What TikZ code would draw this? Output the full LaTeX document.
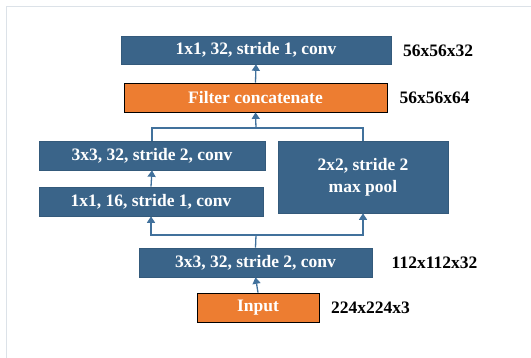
\documentclass[tikz,border=0pt]{standalone}
\usepackage{fontspec}
\setmainfont{Liberation Serif}
\usepackage{xcolor}
\usetikzlibrary{arrows.meta}
\usetikzlibrary{shadows}

\definecolor{layerblue}{HTML}{3A6489}
\definecolor{linkblue}{HTML}{41719C}
\definecolor{concatorange}{HTML}{ED7D31}
\definecolor{framegray}{HTML}{DCE2E8}

\tikzset{
    layer/.style={rectangle, fill=layerblue, draw=layerblue!90!black, line width=0.6pt,
        text=white, font={\fontsize{17.5}{22}\selectfont\bfseries}, align=center,
        inner sep=0pt, drop shadow={opacity=0.22, shadow xshift=1pt, shadow yshift=-1.5pt}},
    merge/.style={rectangle, fill=concatorange, draw=black, line width=0.8pt,
        text=white, font={\fontsize{17.5}{20}\selectfont\bfseries}, inner sep=0pt},
    shape label/.style={font={\fontsize{17.5}{20}\selectfont\bfseries}, text=black},
    link/.style={draw=linkblue, line width=1.3pt},
    linkarrow/.style={link, -{Triangle[width=8pt,length=6.5pt]}}
}

\begin{document}
\begin{tikzpicture}[x=1pt, y=-1pt]
        \useasboundingbox (0,0) rectangle (531,358);
        % Rahmen
        \draw[framegray, line width=1pt] (6.5,358) -- (6.5,7) -- (531,7);
        % Schichten
        \node[layer, minimum width=270pt, minimum height=28pt] (conv4) at (256,50) {1x1, 32, stride 1, conv};
        \node[merge, minimum width=263pt, minimum height=29pt] (concat) at (255.5,97.5) {Filter concatenate};
        \node[layer, minimum width=226pt, minimum height=29pt] (conv3) at (152,155.5) {3x3, 32, stride 2, conv};
        \node[layer, minimum width=170pt, minimum height=72pt] (pool) at (363,177) {2x2, stride 2\\max pool};
        \node[layer, minimum width=224pt, minimum height=29pt] (conv2) at (151,201.5) {1x1, 16, stride 1, conv};
        \node[layer, minimum width=233pt, minimum height=29pt] (conv1) at (255.5,262.5) {3x3, 32, stride 2, conv};
        \node[merge, minimum width=122pt, minimum height=29pt] (input) at (258,307.5) {Input};
        % Groessen
        \node[shape label] (size4) at (438,51) {56x56x32};
        \node[shape label] (sizec) at (434.5,98) {56x56x64};
        \node[shape label] (size1) at (434.5,263) {112x112x32};
        \node[shape label] (size0) at (370.5,308) {224x224x3};
        % Verbindungen
        \coordinate (split) at (256,235);
        \coordinate (join) at (256,128);
        \draw[linkarrow] (input.north) -- (conv1.south);
        \draw[link] (conv1.north) -- (split);
        \draw[linkarrow] (split) -| (conv2.south);
        \draw[linkarrow] (split) -| (pool.south);
        \draw[linkarrow] (conv2.north) -- (conv3.south);
        \draw[link] (conv3.north) |- (join) -| (pool.north);
        \draw[linkarrow] (join) -- (concat.south);
        \draw[linkarrow] (concat.north) -- (conv4.south);
\end{tikzpicture}
\end{document}
